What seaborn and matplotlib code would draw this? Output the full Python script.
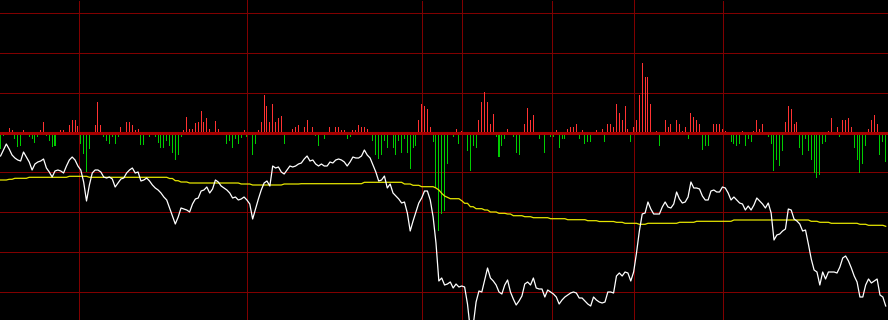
import numpy as np
import pandas as pd
import matplotlib
matplotlib.use("Agg")
import matplotlib.pyplot as plt
import seaborn as sns

# ---- data (one entry per minute bar) ----
# net buy/sell bars (positive = red, negative = green)
bar_values = (
    [-17, -4, 0, 4, 2, -7, -15, -14, 2, 0, -5, -7, -11, -5, 2, 10, -4, -9, -15, -14,
     -3, 2, 2, 0, 7, 12, 12, 6, -12, -22, -40, -17, 0, 7, 30, 7, -5, -9, -12]
    + [-5, -12, -5, 5, 0, 10, 10, 7, 2, 3, -13, -13, -2, -5, 0, -5, -11, -16, -16, -9,
       -14, -21, -28, -23, -5, 2, 15, 3, 3, 9, 10, 21, 10, 14, 3, 0, 11, 3, -2]
    + [0, -12, -9, -16, -7, -12, -6, 2, -5, -2, -23, -12, 2, 10, 37, 26, 10, 28, 10, 14,
       16, -12, 0, 0, 3, 5, 7, 0, 5, 12, 0, 5, -4]
    + [-14, 0, -7, -2, 5, 0, 5, 5, 2, 2, -7, -5, 2, 2, 7, 5, 5, 3, 0, -9,
       -23, -27, -23, -9, -16, -2, -16, -23, -9, -21, -7, -21, -37]
    + [-16, -14, 12, 28, 26, 23, 5, -10, -56, -99, -82, -79, -32, -2, -5, 3, -12, 1, -2, -19,
       -39, -14, -16, 12, 30, 40, 30, 8, 18, -5, -25, -14, -7]
    + [3, -2, -5, -21, -23, -2, 8, 24, 12, 17, 0, -7, -2, -21, 0, -5, -5, 2, -16, -7,
       -7, 3, 5, 5, 8, -7, 2, -12, -10, -10, 0, 2, 0]
    + [3, -10, 8, 8, 5, 28, 19, 12, 26, 3, -10, 5, 12, 37, 69, 55, 55, 28, -2, 1,
       -14, 0, 12, 5, 8, -2, 12, 8, 1, 5, -7, 19, 15, 12]
    + [8, -18, -14, -14, -2, 8, 8, 8, 3, 1, 0, -10, -12, -14, -12, 1, -14, -7, -10, 1,
       12, 3, 8, -2, -5, -12, -39, -28, -34, -19, 10, 26, 23]
    + [8, 10, -16, -23, -7, -19, -28, -41, -46, -43, -12, -10, 1, 14, 0, 5, -5, 12, 12, 14,
       5, -16, -28, -41, -32, -14, 3, 12, 17, 8, -23, -10, -30]
)

# price line (white), in chart units where larger = lower on screen
price_line = (
    [156, 150, 144, 149, 155, 158, 160, 161, 152, 157, 162, 170, 164, 162, 161, 159, 168, 172, 177, 171,
     170, 171, 173, 166, 160, 157, 160, 166, 170, 182, 201, 185, 173, 170, 170, 172, 177, 178, 177]
    + [179, 187, 183, 179, 178, 173, 170, 168, 173, 172, 181, 180, 178, 181, 185, 188, 190, 193, 197, 200,
       208, 216, 224, 217, 208, 209, 210, 212, 204, 199, 198, 191, 190, 187, 193, 189, 180, 182, 186]
    + [188, 190, 193, 198, 197, 200, 199, 197, 200, 204, 219, 209, 199, 190, 183, 181, 186, 166, 168, 167,
       172, 174, 170, 166, 167, 166, 164, 163, 159, 156, 161, 160, 164]
    + [166, 164, 166, 166, 162, 163, 160, 159, 160, 162, 166, 162, 157, 158, 158, 156, 150, 155, 158, 165,
       172, 181, 180, 176, 188, 184, 193, 196, 199, 203, 202, 213, 231]
    + [221, 212, 203, 198, 191, 191, 200, 217, 243, 281, 278, 285, 284, 282, 288, 284, 287, 286, 287, 304,
       330, 325, 302, 291, 292, 280, 268, 278, 281, 285, 292, 294, 285]
    + [280, 292, 299, 305, 301, 296, 284, 282, 285, 278, 288, 289, 289, 297, 290, 292, 294, 297, 304, 300,
       297, 295, 293, 292, 293, 298, 298, 301, 304, 306, 297, 300, 302]
    + [303, 302, 292, 292, 293, 276, 273, 276, 272, 273, 281, 272, 253, 231, 214, 213, 202, 209, 214, 214,
       214, 207, 202, 207, 208, 204, 192, 199, 203, 202, 197, 182, 188, 188]
    + [189, 196, 200, 200, 191, 190, 192, 192, 187, 188, 193, 200, 197, 200, 203, 204, 210, 206, 210, 205,
       198, 201, 204, 208, 203, 213, 240, 235, 234, 231, 229, 209, 210]
    + [219, 221, 224, 231, 230, 244, 259, 270, 272, 285, 272, 279, 272, 272, 272, 273, 267, 258, 256, 261,
       268, 276, 282, 297, 297, 285, 279, 283, 281, 279, 295, 297, 306]
)

# average price line (yellow): levels and how many bars each level lasts
avg_levels = [180, 179.3, 178.3, 177.3, 176.3, 177.3, 178.5, 180.7, 182, 183, 184, 185, 184, 183.7,
              182.3, 184, 185.3, 186.7, 188, 190, 193.3, 196, 197.3, 198.7, 200.7, 203.3, 206.7,
              208.7, 210, 212, 213.3, 214, 215.7, 216.7, 217.7, 218.7, 219.7, 220.7, 221.5, 222.3,
              223.3, 224.3, 223.3, 222.3, 221.3, 220, 221.3, 222.3, 223.3, 224.3, 225.3, 226.3]
avg_counts = [3, 2, 5, 14, 7, 28, 2, 2, 3, 18, 4, 11, 6, 22,
              14, 3, 3, 5, 1, 1, 1, 1, 1, 4, 1, 2, 2,
              3, 2, 3, 3, 2, 4, 3, 6, 6, 7, 4, 6, 3,
              5, 3, 11, 6, 13, 27, 3, 4, 10, 3, 6, 1]

N = len(bar_values)
idx = np.arange(N)
avg_line = np.repeat(avg_levels, avg_counts)
vals = np.array(bar_values)

GRID = "#800000"
fig = plt.figure(figsize=(8.88, 3.2), dpi=100, facecolor="black")
ax = fig.add_axes([0, 0, 1, 1])
ax.set_facecolor("black")

df = pd.DataFrame({"i": idx, "v": vals, "dir": np.where(vals >= 0, "up", "down")})
sns.barplot(data=df, x="i", y="v", hue="dir",
            palette={"up": "#ff3232", "down": "#00cc00"},
            native_scale=True, dodge=False, width=0.35, legend=False,
            errorbar=None, saturation=1, linewidth=0, ax=ax)
for p in ax.patches:
    p.set_snap(True)
    p.set_zorder(2)

ax.set_xlim(-0.2, N - 0.2)
ax.set_ylim(-188, 132)

# horizontal grid (one line every 40 px) and session dividers
for y in [119.5, 79.5, 39.5, -39.5, -79.5, -119.5, -159.5]:
    ax.axhline(y, color=GRID, lw=0.72, zorder=1)
for xv in [86.2, 160.91, 220.96]:
    ax.axvline(xv, color=GRID, lw=0.72, zorder=1)
for xv in [27.55, 146.95, 192.33, 252.37]:
    ax.axvline(xv, color=GRID, lw=0.72, ls=(0, (1, 1)), antialiased=False, zorder=1)
ax.axhline(-0.5, color="#a80000", lw=2.2, zorder=3)
ax.axis("off")

ax2 = ax.twinx()
sns.lineplot(x=idx, y=avg_line, color="#e6e600", lw=0.9, ax=ax2)
sns.lineplot(x=idx, y=np.array(price_line), color="white", lw=0.9, ax=ax2)
ax2.set_xlim(-0.2, N - 0.2)
ax2.set_ylim(320, 0)
ax2.axis("off")

fig.savefig("out.png", dpi=100, facecolor="black")
